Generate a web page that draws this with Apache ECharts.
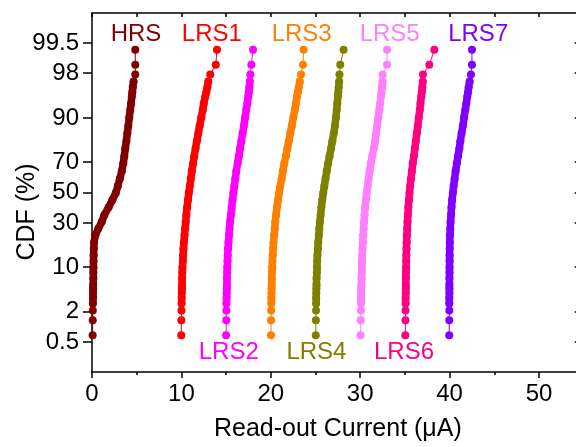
<!DOCTYPE html>
<html><head><meta charset="utf-8">
<script src="https://cdn.jsdelivr.net/npm/echarts@6/dist/echarts.min.js"></script>
<style>html,body{margin:0;padding:0;overflow:hidden;background:#fff;width:576px;height:447px}#c{width:600px;height:447px}</style>
</head><body><div id="c"></div>
<script>
// cumulative percentile (%) of each sample point (shared by all series)
const P = [0.7,1.4,2.1,2.8,3.5,4.2,4.9,5.6,7.0,8.4,9.8,11.9,14.0,16.8,19.6,23.1,26.6,30.8,35.0,39.9,44.8,49.7,54.5,59.4,64.3,69.2,73.4,77.6,81.1,84.6,87.4,90.2,92.3,93.7,95.1,95.8,96.5,97.2,97.9,98.6,99.3];
// read-out current (uA) per series
const HRS  = [0.07,0.08,0.09,0.10,0.11,0.12,0.12,0.13,0.15,0.15,0.16,0.17,0.18,0.20,0.23,0.37,0.70,1.10,1.38,1.86,2.27,2.66,2.89,3.11,3.33,3.50,3.61,3.72,3.84,3.95,4.06,4.17,4.28,4.37,4.45,4.51,4.56,4.65,4.84,4.84,4.84];
const LRS1 = [9.99,10.00,10.01,10.02,10.03,10.04,10.06,10.07,10.08,10.10,10.12,10.16,10.19,10.23,10.28,10.35,10.41,10.48,10.55,10.64,10.73,10.83,10.94,11.05,11.16,11.31,11.44,11.58,11.72,11.89,12.04,12.22,12.39,12.50,12.67,12.79,12.90,13.01,13.23,13.85,13.98];
const LRS2 = [15.00,15.02,15.03,15.04,15.06,15.07,15.08,15.09,15.10,15.12,15.13,15.16,15.18,15.22,15.27,15.32,15.38,15.45,15.53,15.62,15.72,15.81,15.92,16.03,16.14,16.29,16.42,16.57,16.70,16.85,16.98,17.13,17.26,17.37,17.48,17.54,17.60,17.65,17.71,17.82,18.01];
const LRS3 = [20.02,20.03,20.04,20.06,20.07,20.08,20.09,20.10,20.11,20.13,20.16,20.18,20.21,20.26,20.30,20.37,20.44,20.50,20.59,20.69,20.81,20.93,21.06,21.21,21.34,21.51,21.68,21.85,22.01,22.18,22.35,22.52,22.68,22.80,22.94,23.02,23.13,23.24,23.38,23.60,23.67];
const LRS4 = [25.03,25.04,25.06,25.07,25.08,25.09,25.10,25.11,25.12,25.15,25.17,25.19,25.22,25.27,25.31,25.37,25.43,25.49,25.57,25.66,25.76,25.87,25.99,26.12,26.26,26.41,26.57,26.74,26.88,27.04,27.17,27.28,27.37,27.44,27.50,27.55,27.59,27.64,27.68,27.77,28.14];
const LRS5 = [30.04,30.07,30.08,30.09,30.10,30.11,30.12,30.13,30.15,30.17,30.18,30.20,30.23,30.26,30.29,30.34,30.38,30.43,30.48,30.55,30.63,30.72,30.83,30.94,31.05,31.19,31.35,31.52,31.66,31.78,31.89,32.02,32.14,32.23,32.32,32.38,32.45,32.49,32.51,33.00,33.00];
const LRS6 = [35.05,35.06,35.07,35.08,35.08,35.09,35.10,35.10,35.11,35.12,35.13,35.15,35.16,35.18,35.20,35.22,35.26,35.29,35.33,35.38,35.45,35.51,35.59,35.68,35.78,35.88,36.00,36.11,36.22,36.33,36.44,36.55,36.67,36.74,36.83,36.89,36.95,37.00,37.02,37.73,38.29];
const LRS7 = [39.96,39.96,39.97,39.97,39.97,39.98,39.98,39.98,39.98,39.99,39.99,40.00,40.00,40.01,40.02,40.04,40.08,40.11,40.16,40.21,40.28,40.36,40.45,40.56,40.67,40.81,40.94,41.09,41.20,41.34,41.48,41.62,41.76,41.87,41.98,42.06,42.13,42.24,42.39,42.50,42.50];

const seriesNames = ['HRS','LRS1','LRS2','LRS3','LRS4','LRS5','LRS6','LRS7'];
const seriesData = [HRS,LRS1,LRS2,LRS3,LRS4,LRS5,LRS6,LRS7];
const colors = ['#800000','#FF0000','#FF00FF','#FF8000','#808000','#FF80FF','#FF0080','#8000FF'];
// series name annotations: x (uA) and cumulative percent where text is centred
const labelX = [4.92,13.4,15.3,23.45,25.1,33.3,34.9,43.2];
const labelP = [99.67,99.67,0.3,99.67,0.3,99.67,0.3,99.67];

const yTickP = [0.5,2,10,30,50,70,90,98,99.5];
const yTickLabels = ['0.5','2','10','30','50','70','90','98','99.5'];
const xMin = 0, xMax = 55;
// index range where the measured points overlap into a solid band
const denseFrom = 3, denseTo = 38;

// normal probability scale transform (inverse normal CDF)
function probit(p){
  const a=[-3.969683028665376e+01,2.209460984245205e+02,-2.759285104469687e+02,1.383577518672690e+02,-3.066479806614716e+01,2.506628277459239e+00];
  const b=[-5.447609879822406e+01,1.615858368580409e+02,-1.556989798598866e+02,6.680131188771972e+01,-1.328068155288572e+01];
  const c=[-7.784894002430293e-03,-3.223964580411365e-01,-2.400758277161838e+00,-2.549671348602961e+00,4.374664141464968e+00,2.938163982698783e+00];
  const d=[7.784695709041462e-03,3.224671290700398e-01,2.445134137142996e+00,3.754408661907416e+00];
  const pl=0.02425, ph=1-pl; let q,r;
  if(p<pl){q=Math.sqrt(-2*Math.log(p));return (((((c[0]*q+c[1])*q+c[2])*q+c[3])*q+c[4])*q+c[5])/((((d[0]*q+d[1])*q+d[2])*q+d[3])*q+1);}
  if(p<=ph){q=p-0.5;r=q*q;return (((((a[0]*r+a[1])*r+a[2])*r+a[3])*r+a[4])*r+a[5])*q/(((((b[0]*r+b[1])*r+b[2])*r+b[3])*r+b[4])*r+1);}
  q=Math.sqrt(-2*Math.log(1-p));return -(((((c[0]*q+c[1])*q+c[2])*q+c[3])*q+c[4])*q+c[5])/((((d[0]*q+d[1])*q+d[2])*q+d[3])*q+1);
}
const yTickZ = yTickP.map(p=>probit(p/100));
const yMin = probit(0.001), yMax = probit(0.999);
const FONT = "'Liberation Sans', Arial, sans-serif";
const AX = {color:'#000', width:1.5};

const chart = echarts.init(document.getElementById('c'), null, {renderer:'canvas'});
const series = [];
seriesNames.forEach((n,k)=>{
  const pts = seriesData[k].map((x,i)=>[x, probit(P[i]/100)]);
  series.push({
    name:n+' band', type:'line', xAxisIndex:0, yAxisIndex:0,
    data: pts.slice(denseFrom, denseTo),
    symbol:'none', silent:true,
    lineStyle:{color:colors[k], width:7.5, cap:'round', join:'round'},
    z:2
  });
  series.push({
    name:n, type:'line', xAxisIndex:0, yAxisIndex:0,
    data: pts,
    symbol:'circle', symbolSize:8, showSymbol:true,
    itemStyle:{color:colors[k]},
    lineStyle:{color:colors[k], width:1},
    z:3
  });
});
const option = {
  animation:false,
  backgroundColor:'#fff',
  grid:{left:92, top:13, width:491.7, height:369},
  xAxis:[{
    type:'value', min:xMin, max:xMax, interval:10, position:'bottom',
    axisLine:{show:true, onZero:false, lineStyle:AX},
    axisTick:{show:true, inside:false, length:6, lineStyle:AX},
    minorTick:{show:true, splitNumber:2, length:3, lineStyle:{color:'#000', width:1.5}},
    splitLine:{show:false},
    axisLabel:{margin:10, color:'#000', fontSize:24, fontFamily:FONT, showMaxLabel:false},
    name:'Read-out Current (\u03BCA)', nameLocation:'middle', nameGap:45,
    nameTextStyle:{color:'#000', fontSize:25, fontFamily:FONT}
  },{
    type:'value', min:xMin, max:xMax, interval:5, position:'top',
    axisLine:{show:true, onZero:false, lineStyle:AX},
    axisTick:{show:true, inside:true, length:4, lineStyle:AX},
    axisLabel:{show:false}, splitLine:{show:false}
  }],
  yAxis:[{
    type:'value', min:yMin, max:yMax, position:'left',
    axisLine:{show:true, onZero:false, lineStyle:AX},
    axisTick:{show:true, inside:false, length:9, lineStyle:AX, customValues:yTickZ},
    axisLabel:{margin:13, color:'#000', fontSize:24, fontFamily:FONT, customValues:yTickZ,
      formatter:function(v){let best=0,bd=1e9;yTickZ.forEach((z,i)=>{const dd=Math.abs(z-v);if(dd<bd){bd=dd;best=i;}});return yTickLabels[best];}},
    splitLine:{show:false}
  },{
    type:'value', min:yMin, max:yMax, position:'right',
    axisLine:{show:true, onZero:false, lineStyle:AX},
    axisTick:{show:true, inside:true, length:9, lineStyle:AX, customValues:yTickZ},
    axisLabel:{show:false}, splitLine:{show:false}
  }],
  series: series
};
chart.setOption(option);
const g = [];
seriesNames.forEach((n,k)=>{
  const pt = chart.convertToPixel({xAxisIndex:0,yAxisIndex:0},[labelX[k], probit(labelP[k]/100)]);
  g.push({type:'text', x:pt[0], y:pt[1], style:{text:n, fill:colors[k], font:'24px '+FONT, align:'center', verticalAlign:'middle'}, z:10});
});
g.push({type:'text', x:27, y:212, rotation:Math.PI/2, style:{text:'CDF (%)', fill:'#000', font:'25px '+FONT, align:'center', verticalAlign:'middle'}, z:10});
chart.setOption({graphic:g});
</script></body></html>
